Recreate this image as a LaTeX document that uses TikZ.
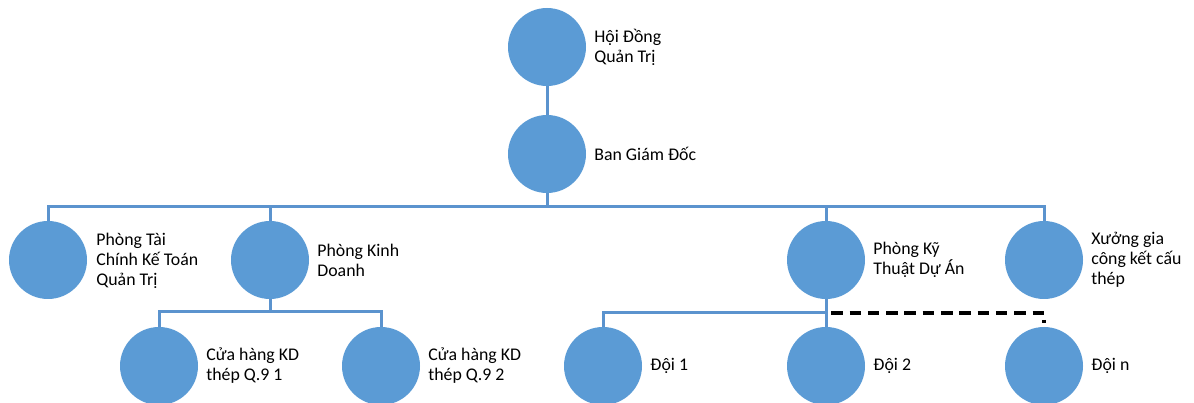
\documentclass[tikz,border=0pt]{standalone}
\usepackage{fontspec}
\setmainfont{Carlito}
\definecolor{nodeblue}{HTML}{5B9BD5}
\definecolor{lineblue}{HTML}{5B93CE}
\pgfdeclarelayer{background}
\pgfsetlayers{background,main}
\begin{document}
\begin{tikzpicture}[x=1pt,y=-1pt,
  unit/.style={circle,fill=nodeblue,minimum size=78pt,inner sep=0pt},
  lbl/.style={anchor=west,align=left,inner sep=0pt,font=\fontsize{17.8pt}{20pt}\selectfont},
  link/.style={draw=lineblue,line width=3pt},
  dashlink/.style={draw=black,line width=3.4pt,dash pattern=on 11.5pt off 6.8pt,dash phase=13.1pt}]
\useasboundingbox (0,0) rectangle (1194,403);
% nodes
\node[unit] (hdqt) at (547,47) {};
\node[unit] (bgd) at (547,154) {};
\node[unit] (ptc) at (48,260) {};
\node[unit] (pkd) at (270,260) {};
\node[unit] (pkt) at (826,260) {};
\node[unit] (xg) at (1044,260) {};
\node[unit] (ch1) at (159,366) {};
\node[unit] (ch2) at (381,366) {};
\node[unit] (d1) at (603,366) {};
\node[unit] (d2) at (826,366) {};
\node[unit] (dn) at (1044,366) {};
% labels
\node[lbl] (thdqt) at ([xshift=8pt]hdqt.east) {Hội Đồng\\Quản Trị};
\node[lbl] (tbgd) at ([xshift=8pt]bgd.east) {Ban Giám Đốc};
\node[lbl] (tptc) at ([xshift=9pt,yshift=-1pt]ptc.east) {Phòng Tài\\Chính Kế Toán\\Quản Trị};
\node[lbl] (tpkd) at ([xshift=8pt]pkd.east) {Phòng Kinh\\Doanh};
\node[lbl] (tpkt) at ([xshift=8pt]pkt.east) {Phòng Kỹ\\Thuật Dự Án};
\node[lbl] (txg) at ([xshift=8pt]xg.east) {Xưởng gia\\công kết cấu\\thép};
\node[lbl] (tch1) at ([xshift=8pt]ch1.east) {Cửa hàng KD\\thép Q.9 1};
\node[lbl] (tch2) at ([xshift=8pt]ch2.east) {Cửa hàng KD\\thép Q.9 2};
\node[lbl] (td1) at ([xshift=8pt]d1.east) {Đội 1};
\node[lbl] (td2) at ([xshift=8pt]d2.east) {Đội 2};
\node[lbl] (tdn) at ([xshift=8pt]dn.east) {Đội n};
% bus coordinates
\coordinate (bus) at (0,207);
\coordinate (busch) at (0,312);
\coordinate (busd) at (0,313);
% connectors
\begin{pgfonlayer}{background}
\draw[link] (hdqt) -- (bgd);
\draw[link] (bgd) -- (bgd |- bus);
\draw[link] (ptc) -- (ptc |- bus) -- (xg |- bus) -- (xg);
\draw[link] (pkd) -- (pkd |- bus);
\draw[link] (pkt) -- (pkt |- bus);
\draw[link] (pkd) -- (pkd |- busch);
\draw[link] (ch1) -- (ch1 |- busch) -- (ch2 |- busch) -- (ch2);
\draw[link] (pkt) -- (d2);
\draw[link] (d1) -- (d1 |- busd) -- (d2 |- busd);
\draw[dashlink] (d2 |- busd) -- (dn |- busd) -- ([yshift=4pt]dn.north);
\end{pgfonlayer}
\end{tikzpicture}
\end{document}
